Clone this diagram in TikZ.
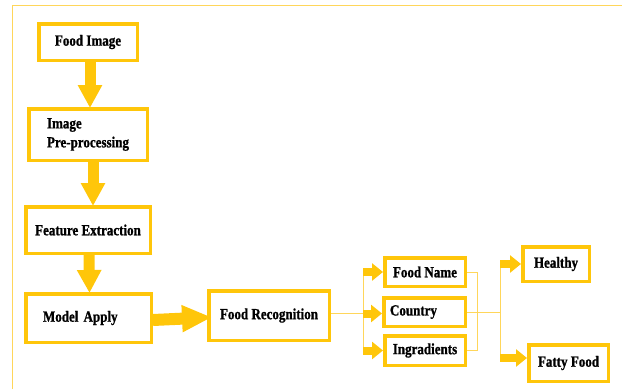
\documentclass[tikz,border=0pt]{standalone}
\usepackage{fontspec}
\setmainfont{Liberation Serif}
\newfontfamily\boxfont{Liberation Serif}[FakeStretch=0.84,FakeBold=1]
\usepackage{tikz}
\usetikzlibrary{arrows.meta}

\definecolor{amber}{RGB}{255,198,10}
\definecolor{paleamber}{RGB}{255,214,90}

\tikzset{
	box/.style={draw=amber, line width=3.5pt, inner sep=2pt, font=\boxfont\bfseries\fontsize{15.5}{19}\selectfont},
	bigarrow/.style={draw=amber, line width=11pt, -{Triangle[width=23pt,length=23pt]}, shorten >=-1pt},
	sidearrow/.style={draw=amber, line width=12pt, -{Triangle[width=25pt,length=30pt]}, shorten >=-5pt},
	smallarrow/.style={draw=amber, line width=8pt, -{Triangle[width=17pt,length=11pt]}},
	wire/.style={draw=paleamber, line width=1pt},
}

\begin{document}
\begin{tikzpicture}[x=1pt,y=-1pt]
	\useasboundingbox (0,0) rectangle (622,389);
	\draw [paleamber, line width=1.2pt] (12.5,389) -- (12.5,5.5) -- (622,5.5);

	\node [box, minimum width=98.5pt, minimum height=36.5pt] (fimg) at (88,42) {Food Image};
	\node [box, minimum width=118.5pt, minimum height=51.5pt, align=left] (prep) at (88,134.5) {Image\\Pre-processing};
	\node [box, minimum width=124.5pt, minimum height=46.5pt] (feat) at (88,230) {Feature Extraction};
	\node [box, minimum width=125.5pt, minimum height=48.5pt, inner xsep=17pt, text width=91pt, align=left] (model) at (88.5,318) {Model Apply};
	\node [box, minimum width=120.5pt, minimum height=49.5pt] (frec) at (269,315.5) {Food Recognition};

	\node [box, minimum width=80.5pt, minimum height=28.5pt] (fname) at (425,272) {Food Name};
	\node [box, minimum width=81.5pt, minimum height=28.5pt, inner xsep=6pt, text width=69pt, align=left] (country) at (424.5,312) {Country};
	\node [box, minimum width=80.5pt, minimum height=29.5pt] (ingr) at (425,350.5) {Ingradients};

	\node [box, minimum width=66.5pt, minimum height=34.5pt] (healthy) at (556,264) {Healthy};
	\node [box, minimum width=79.5pt, minimum height=36.5pt] (fatty) at (568.5,363) {Fatty Food};

	\draw [bigarrow] ([xshift=2pt]fimg.south) -- ([xshift=2pt]prep.north);
	\draw [bigarrow] ([xshift=5pt]prep.south) -- ([xshift=5pt]feat.north);
	\draw [bigarrow] ([xshift=1pt]feat.south) -- ([xshift=1pt]model.north);
	\draw [sidearrow] ([yshift=-2pt]model.east) -- ([yshift=-2pt]frec.west);

	\draw [wire] ([yshift=2pt]frec.east) -- ++(32,0) coordinate (jn1);
	\draw [wire] (jn1 |- fname) -- (jn1 |- ingr);
	\draw [smallarrow] (jn1 |- fname) -- (fname.west);
	\draw [smallarrow] (jn1) -- (jn1 -| country.west);
	\draw [smallarrow] (jn1 |- ingr) -- (ingr.west);

	\draw [wire] (fname.east) -- ++(10,0) |- (ingr.east);
	\draw [wire] (country.east) -- (500,312) coordinate (jn2);
	\draw [wire] (jn2 |- healthy) -- ([yshift=5pt]jn2 |- fatty);
	\draw [smallarrow] (jn2 |- healthy) -- (healthy.west);
	\draw [smallarrow] ([yshift=5pt]jn2 |- fatty) -- ([yshift=5pt]fatty.west);
\end{tikzpicture}
\end{document}
